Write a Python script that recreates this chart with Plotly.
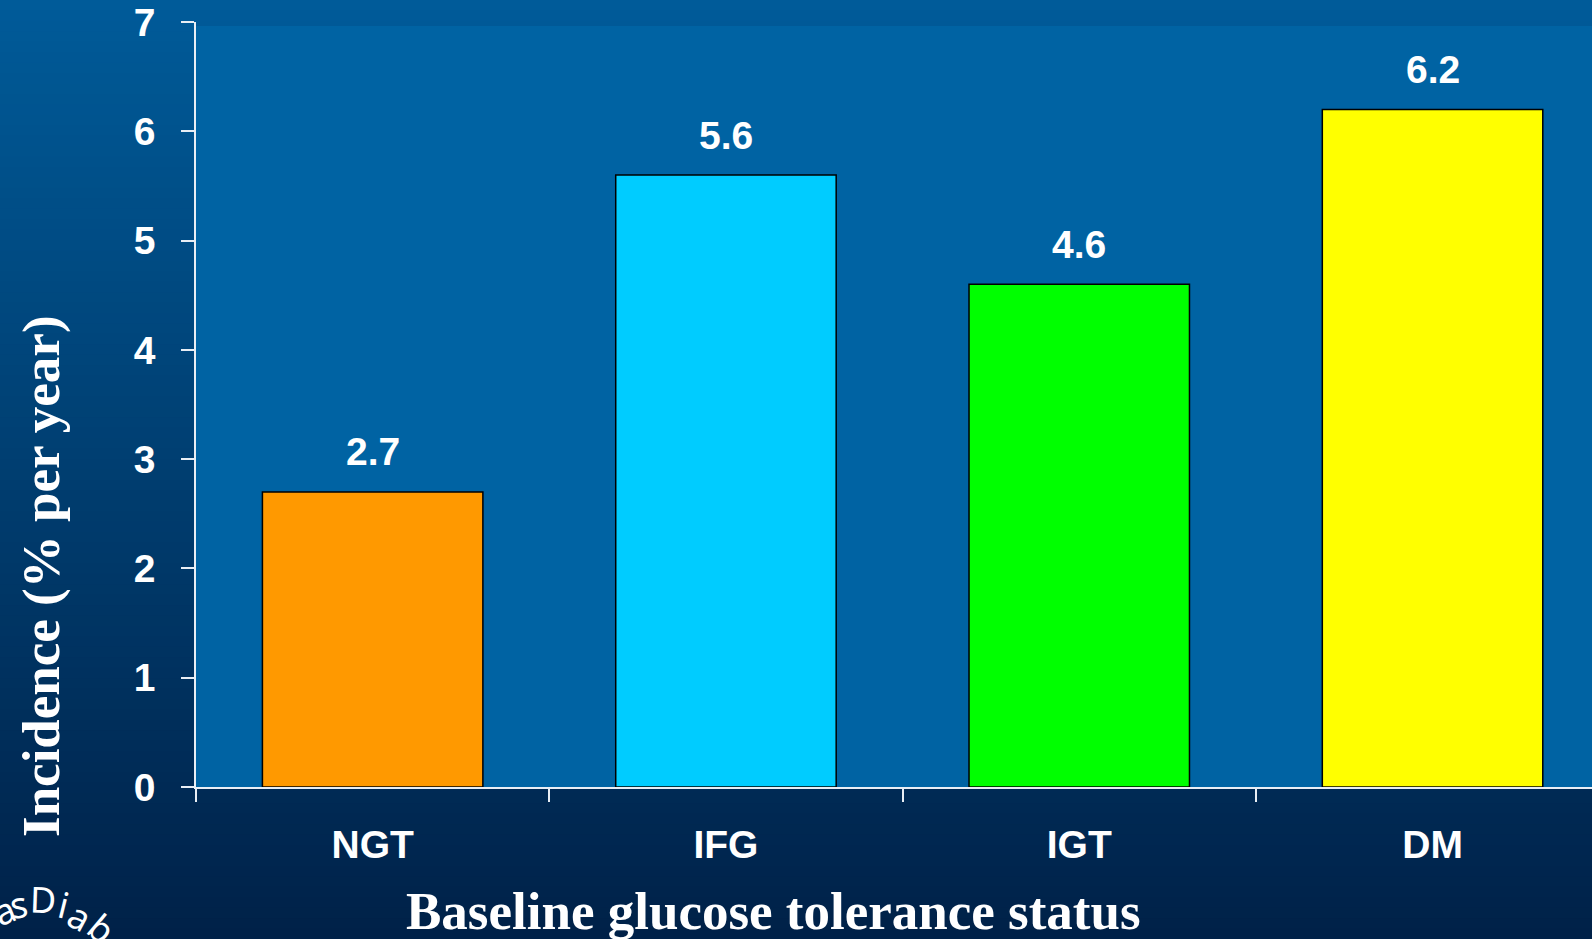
import plotly.graph_objects as go

# Chart data
categories = ["NGT", "IFG", "IGT", "DM"]
incidence = [2.7, 5.6, 4.6, 6.2]
bar_colors = ["#FF9900", "#00CCFF", "#00FF00", "#FFFF00"]
y_ticks = [0, 1, 2, 3, 4, 5, 6, 7]
value_labels = ["2.7", "5.6", "4.6", "6.2"]

W, H = 1592, 939
ML, MR, MT, MB = 196, 0, 22, 152
plot_w = W - ML - MR
plot_h = H - MT - MB

fig = go.Figure()
fig.add_trace(go.Bar(
    x=categories,
    y=incidence,
    width=0.624,
    marker=dict(color=bar_colors, line=dict(color="#000000", width=1.5)),
    hoverinfo="skip",
))

# value labels above bars
for cat, val, lab in zip(categories, incidence, value_labels):
    fig.add_annotation(
        x=cat, y=val, text=lab, showarrow=False,
        yanchor="middle", yshift=40,
        font=dict(family="Liberation Sans, Arial", size=39, color="white",
                  weight="bold"),
    )

# vertical slide background gradient built from thin strips
shapes = []
n = 90
top = (0, 91, 153)
bot = (0, 33, 72)
for i in range(n):
    t = (i + 0.5) / n
    c = tuple(int(round(a + (b - a) * t)) for a, b in zip(top, bot))
    py0 = H * i / n
    py1 = H * (i + 1) / n + 1
    shapes.append(dict(
        type="rect", layer="below", line=dict(width=0),
        xref="paper", yref="paper",
        x0=-ML / plot_w, x1=1.0 + 0.01,
        y0=(H - MB - py1) / plot_h, y1=(H - MB - py0) / plot_h,
        fillcolor="rgb(%d,%d,%d)" % c,
    ))
# lighter plotting panel
shapes.append(dict(
    type="rect", layer="below", line=dict(width=0),
    xref="paper", yref="paper",
    x0=0, x1=1.01, y0=0, y1=(H - MB - 26) / plot_h,
    fillcolor="#0063A3",
))

# axis titles
fig.add_annotation(
    xref="paper", yref="paper",
    x=(773 - ML) / plot_w, y=(H - MB - 911) / plot_h,
    text="Baseline glucose tolerance status", showarrow=False,
    xanchor="center", yanchor="middle",
    font=dict(family="Liberation Serif, Times New Roman", size=53,
              color="white", weight="bold"),
)
fig.add_annotation(
    xref="paper", yref="paper",
    x=(41 - ML) / plot_w, y=(H - MB - 576) / plot_h,
    text="Incidence (% per year)", showarrow=False, textangle=-90,
    xanchor="center", yanchor="middle",
    font=dict(family="Liberation Serif, Times New Roman", size=53,
              color="white", weight="bold"),
)

# partial curved logo text in the lower-left corner
logo = [("a", 4, 910, -22), ("s", 18, 905, -10), ("D", 43, 900, 2),
        ("i", 63, 905, 14), ("a", 80, 916, 28), ("b", 102, 928, 40)]
for ch, px, py, ang in logo:
    fig.add_annotation(
        xref="paper", yref="paper",
        x=(px - ML) / plot_w, y=(H - MB - py) / plot_h,
        text=ch, showarrow=False, textangle=ang,
        xanchor="center", yanchor="middle",
        font=dict(family="Noto Sans", size=36, color="white"),
    )

tick_font = dict(family="Liberation Sans, Arial", size=39, color="white",
                 weight="bold")
fig.update_layout(
    width=W, height=H,
    margin=dict(l=ML, r=MR, t=MT, b=MB, pad=0),
    paper_bgcolor="#003E70",
    plot_bgcolor="rgba(0,0,0,0)",
    shapes=shapes,
    showlegend=False,
    bargap=0.376,
    xaxis=dict(
        type="category", range=[-0.5, -0.5 + plot_w / (353.3)],
        showline=True, linecolor="#E8EEF5", linewidth=1.5,
        ticks="outside", tickson="boundaries", ticklen=13, tickwidth=1.5,
        tickcolor="#E8EEF5", showgrid=False, zeroline=False,
        tickfont=tick_font, ticklabelstandoff=22,
    ),
    yaxis=dict(
        range=[0, 7], tickvals=y_ticks,
        showline=True, linecolor="#E8EEF5", linewidth=1.5,
        ticks="outside", ticklen=13, tickwidth=1.5, tickcolor="#E8EEF5",
        showgrid=False, zeroline=False,
        tickfont=tick_font, ticklabelstandoff=18,
    ),
)

fig.write_html("out.html")
